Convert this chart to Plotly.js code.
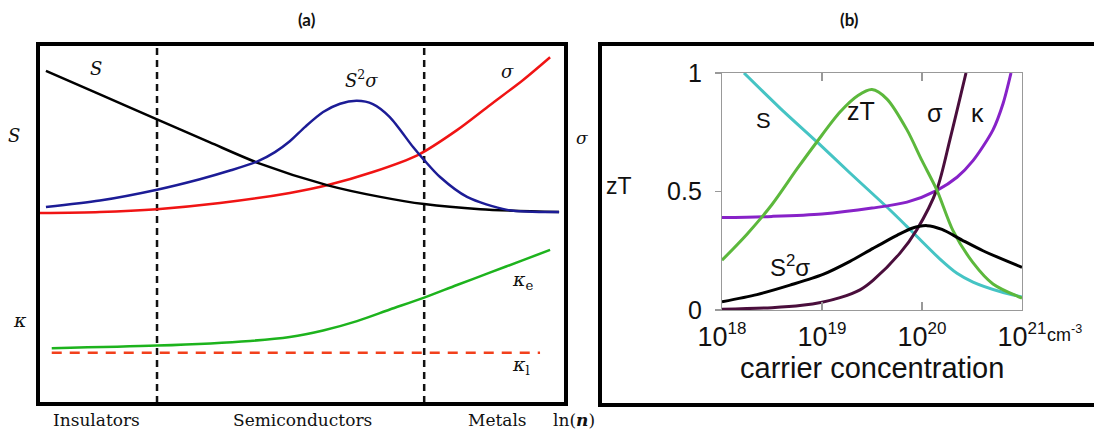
<!DOCTYPE html>
<html><head><meta charset="utf-8">
<script src="https://cdn.plot.ly/plotly-3.0.1.min.js"></script>
<style>html,body{margin:0;padding:0;background:#fff}</style>
</head><body><div id="chart" style="width:1094px;height:432px"></div>
<script>
// ---------- Panel (a): schematic vs ln(n) (arbitrary units) ----------
const aS_x   = [0.15,1.17,2.25,3.25,4.18,5.48,6.47,7.30,8.36,9.85];
const aS_y   = [0.920,0.855,0.786,0.722,0.664,0.603,0.571,0.551,0.537,0.529];
const aPF_x  = [0.15,1.17,2.25,3.06,3.63,4.16,4.48,4.76,5.05,5.39,5.71,6.03,6.33,6.65,7.09,7.30,7.60,8.11,8.87,9.85];
const aPF_y  = [0.543,0.561,0.591,0.620,0.644,0.670,0.695,0.725,0.765,0.806,0.829,0.837,0.828,0.792,0.709,0.673,0.626,0.571,0.535,0.529];
const aSig_x = [0,1.17,2.25,3.44,4.76,5.48,6.33,7.18,7.92,8.54,9.17,9.68];
const aSig_y = [0.526,0.529,0.537,0.554,0.582,0.604,0.640,0.687,0.756,0.825,0.895,0.958];
const aKe_x  = [0.26,2.25,4.01,4.76,5.39,6.03,6.65,7.30,7.92,8.54,9.17,9.68];
const aKe_y  = [0.152,0.159,0.172,0.183,0.201,0.227,0.259,0.292,0.327,0.361,0.396,0.424];
const aKl_x  = [0.26,9.49];
const aKl_y  = [0.139,0.139];
const aBounds = [2.25,7.30];          // insulator|semiconductor|metal boundaries
const aRegions = ["Insulators","Semiconductors","Metals"];

// ---------- Panel (b): vs carrier concentration (log10 cm^-3) ----------
const bS_logn   = [18.22,18.58,18.95,19.28,19.68,19.85,19.95,20.18,20.35,20.51,20.78,21.0];
const bS_val    = [1.0,0.852,0.709,0.578,0.422,0.352,0.31,0.215,0.155,0.118,0.078,0.055];
const bZT_logn  = [18.0,18.25,18.5,18.75,18.95,19.18,19.36,19.5,19.65,19.85,20.0,20.15,20.31,20.51,20.71,21.0];
const bZT_val   = [0.21,0.32,0.445,0.595,0.71,0.835,0.905,0.93,0.89,0.76,0.63,0.505,0.335,0.20,0.11,0.05];
const bK_logn   = [18.0,18.5,19.0,19.5,19.85,20.15,20.35,20.51,20.71,20.81,20.89];
const bK_val    = [0.39,0.395,0.405,0.43,0.455,0.505,0.56,0.63,0.76,0.87,1.0];
const bSig_logn = [18.0,18.5,18.8,19.0,19.18,19.38,19.51,19.78,19.95,20.15,20.28,20.44];
const bSig_val  = [0.003,0.01,0.02,0.033,0.052,0.085,0.125,0.24,0.34,0.51,0.72,1.0];
const bPF_logn  = [18.0,18.35,18.68,19.01,19.28,19.51,19.75,19.9,20.05,20.2,20.4,20.61,21.0];
const bPF_val   = [0.035,0.065,0.105,0.15,0.205,0.26,0.315,0.345,0.356,0.34,0.295,0.25,0.18];
const bTickExp  = [18,19,20,21];
const bYTicks   = [0,0.5,1];

const W = 1094, H = 432;
const px = v => v / W, py = v => 1 - v / H;
const pow10 = a => a.map(e => Math.pow(10, e));

const SANS = "Liberation Sans, Arial, sans-serif";
const SERIF = "DejaVu Serif, serif";

function line(x, y, color, width, xa, ya, dash) {
  return {x, y, mode: "lines", xaxis: xa, yaxis: ya, hoverinfo: "skip",
          line: {color, width, shape: "spline", smoothing: 0.8, dash: dash || "solid"}};
}

const traces = [];
// panel a
aBounds.forEach(b => traces.push({x: [b, b], y: [0, 1], mode: "lines", xaxis: "x", yaxis: "y",
  hoverinfo: "skip", line: {color: "#111", width: 2.5, dash: "7px,5px"}}));
traces.push(line(aKl_x, aKl_y, "#f2401c", 2.5, "x", "y", "10px,8px"));
traces.push(line(aKe_x, aKe_y, "#1db31d", 2.5, "x", "y"));
traces.push(line(aSig_x, aSig_y, "#f01414", 2.5, "x", "y"));
traces.push(line(aS_x, aS_y, "#000000", 2.5, "x", "y"));
traces.push(line(aPF_x, aPF_y, "#1c1c96", 2.5, "x", "y"));
// panel b
traces.push(line(pow10(bS_logn), bS_val, "#45c4c4", 3, "x2", "y2"));
traces.push(line(pow10(bK_logn), bK_val, "#8722c8", 3, "x2", "y2"));
traces.push(line(pow10(bSig_logn), bSig_val, "#4a0e3c", 3, "x2", "y2"));
traces.push(line(pow10(bZT_logn), bZT_val, "#5cb83c", 3, "x2", "y2"));
traces.push(line(pow10(bPF_logn), bPF_val, "#000000", 3, "x2", "y2"));

function ann(text, x, y, size, family, extra) {
  return Object.assign({text, x: px(x), y: py(y), xref: "paper", yref: "paper",
    showarrow: false, xanchor: "center", yanchor: "middle",
    font: {size, family, color: "#111"}}, extra || {});
}

const annotations = [
  ann("<b>(a)</b>", 307, 19, 17, "Lato, Open Sans, sans-serif"),
  ann("<b>(b)</b>", 849, 19, 17, "Lato, Open Sans, sans-serif"),
  // panel a labels
  ann("<i>S</i>", 96, 68, 18, SERIF),
  ann("<i>S</i><sup>2</sup><i>σ</i>", 361, 79, 18, SERIF),
  ann("<i>σ</i>", 507, 72, 18, SERIF),
  ann("<i>S</i>", 14, 135, 18, SERIF),
  ann("<i>σ</i>", 582, 138, 17, SERIF),
  ann("<i>κ</i>", 20, 320, 19, SERIF),
  ann("<i>κ</i><sub>e</sub>", 522, 280, 19, SERIF),
  ann("<i>κ</i><sub>l</sub>", 521, 365, 19, SERIF),
  ann(aRegions[0], 96, 420, 17, SERIF),
  ann(aRegions[1], 302, 420, 17, SERIF),
  ann(aRegions[2], 497, 420, 17, SERIF),
  ann("ln(<i><b>n</b></i>)", 574, 420, 17, SERIF),
  // panel b labels
  ann("S", 763, 120, 22, SANS),
  ann("zT", 861, 111, 25, SANS),
  ann("σ", 935, 113, 25, SANS),
  ann("κ", 977, 113, 25, SANS),
  ann("S<sup>2</sup>σ", 790, 266, 24, SANS),
  ann("zT", 619, 186, 23, SANS),
  ann("cm<sup>-3</sup>", 1064, 333, 18, SANS),
  ann("carrier concentration", 872, 368, 29, SANS)
];

const layout = {
  width: W, height: H, margin: {l: 0, r: 0, t: 0, b: 0},
  paper_bgcolor: "#fff", plot_bgcolor: "#fff", showlegend: false,
  font: {family: SANS, color: "#000"},
  xaxis: {domain: [px(40), px(564)], range: [0.038, 9.943], showline: true, mirror: true,
    linewidth: 4, linecolor: "#000", showgrid: false, zeroline: false,
    showticklabels: false, ticks: "", fixedrange: true},
  yaxis: {domain: [py(402), py(46)], range: [0.0028, 0.989], showline: true, mirror: true,
    linewidth: 4, linecolor: "#000", showgrid: false, zeroline: false,
    showticklabels: false, ticks: "", fixedrange: true},
  xaxis2: {anchor: "y2", domain: [px(722), px(1022)], type: "log", range: [18, 21],
    showline: true, mirror: "ticks", linecolor: "#999", linewidth: 1.2,
    ticks: "inside", ticklen: 8, tickcolor: "#999", tickwidth: 1.2,
    tickvals: pow10(bTickExp),
    ticktext: bTickExp.map(e => "10<sup><span style='font-size:17px'>" + e + "</span></sup>"),
    tickfont: {size: 27, family: SANS, color: "#111"}, ticklabelstandoff: 2,
    showgrid: false, zeroline: false},
  yaxis2: {anchor: "x2", domain: [py(310), py(73)], range: [0, 1],
    showline: true, mirror: true, linecolor: "#999", linewidth: 1.2,
    ticks: "outside", ticklen: 6, tickcolor: "#999", tickwidth: 1.2,
    tickvals: bYTicks, ticktext: bYTicks.map(String),
    tickfont: {size: 25, family: SANS, color: "#111"}, ticklabelstandoff: 8,
    showgrid: false, zeroline: false},
  shapes: [{type: "rect", xref: "paper", yref: "paper",
    x0: px(600), x1: px(1110), y0: py(405), y1: py(44),
    line: {color: "#000", width: 4}, fillcolor: "rgba(0,0,0,0)", layer: "below"}],
  annotations
};

Plotly.newPlot("chart", traces, layout, {staticPlot: true, displayModeBar: false});
</script>
</body></html>
